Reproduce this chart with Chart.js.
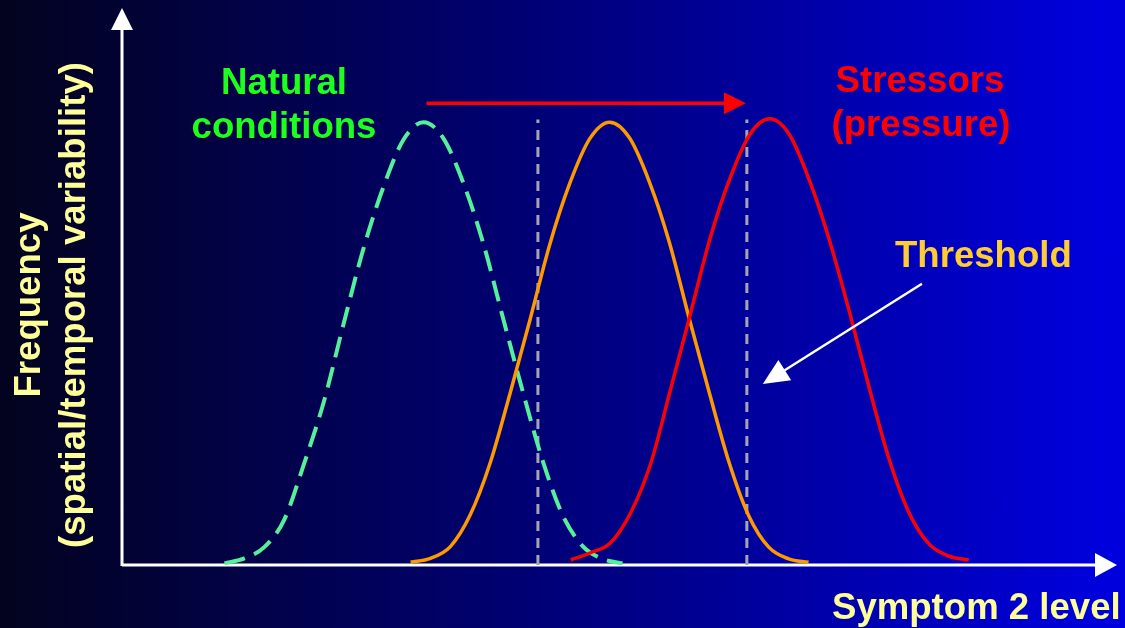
<!DOCTYPE html>
<html><head><meta charset="utf-8">
<script src="https://cdn.jsdelivr.net/npm/chart.js@4.4.0/dist/chart.umd.min.js"></script>
<style>
html,body{margin:0;padding:0;background:#000;}
#wrap{width:1125px;height:628px;background:linear-gradient(to right,#03031f 0%,#000070 45%,#0000e0 100%);}
canvas{display:block;}
</style></head><body>
<div id="wrap"><canvas id="c" width="1125" height="628"></canvas></div>
<script>
// ---- data (symptom level 0-100, frequency 0-100) ----
const naturalLevel = [10.3,12.3,14.3,16.3,18.3,20.3,22.3,24.3,26.3,28.3,30.3,32.3,34.3,36.3,38.3,40.3,42.3,44.3,46.3,48.3,50.3];
const naturalFreq  = [0.3,1.2,3.2,8.1,18.2,29.4,43.5,57.0,68.0,76.4,79.5,76.6,68.6,57.8,44.3,31.0,18.6,8.9,3.4,1.1,0.3];
const middleLevel  = [29.0,31.0,33.0,35.0,37.0,39.0,41.0,43.0,45.0,47.0,49.0,51.0,53.0,55.0,57.0,59.0,61.0,63.0,65.0,67.0,69.0];
const middleFreq   = [0.5,1.2,3.3,9.0,18.3,30.8,44.0,57.6,68.5,76.5,79.5,76.7,68.8,58.0,44.3,31.1,18.5,8.8,3.2,1.1,0.5];
const stressLevel  = [45.1,47.1,49.1,51.1,53.1,55.1,57.1,59.1,61.1,63.1,65.1,67.1,69.1,71.1,73.1,75.1,77.1,79.1,81.1,83.1,85.1];
const stressFreq   = [0.9,2.2,4.0,9.3,18.0,31.3,44.9,58.6,69.4,77.3,80.1,77.2,69.0,58.3,45.5,31.8,19.0,9.4,3.8,1.6,0.9];
const thresholdLevels = [41.8, 62.8];
const thresholdTop = 80;

// annotation arrows (in data units)
const shiftArrow = {x1:30.6, y1:82.9, x2:62.7, y2:82.9};
const pointerArrow = {x1:80.4, y1:50.5, x2:64.4, y2:32.5};

const pts = (xs, ys) => xs.map((x,i)=>({x:x, y:ys[i]}));

const thresholdSets = thresholdLevels.map(t => ({
  data:[{x:t,y:0},{x:t,y:thresholdTop}],
  borderColor:'#a4a4b4', borderWidth:3, borderDash:[10,7],
  pointRadius:0, order:10
}));

function arrowHead(ctx, x1,y1,x2,y2,len,half,color){
  const a = Math.atan2(y2-y1,x2-x1);
  ctx.fillStyle=color;
  ctx.beginPath();
  ctx.moveTo(x2,y2);
  ctx.lineTo(x2-len*Math.cos(a)+half*Math.sin(a), y2-len*Math.sin(a)-half*Math.cos(a));
  ctx.lineTo(x2-len*Math.cos(a)-half*Math.sin(a), y2-len*Math.sin(a)+half*Math.cos(a));
  ctx.closePath(); ctx.fill();
}
function arrow(ctx,x1,y1,x2,y2,w,len,half,color){
  const a = Math.atan2(y2-y1,x2-x1);
  ctx.strokeStyle=color; ctx.lineWidth=w; ctx.lineCap='butt';
  ctx.beginPath(); ctx.moveTo(x1,y1); ctx.lineTo(x2-(len-2)*Math.cos(a), y2-(len-2)*Math.sin(a)); ctx.stroke();
  arrowHead(ctx,x1,y1,x2,y2,len,half,color);
}

const axesPlugin = {
  id:'axesArrows',
  beforeDatasetsDraw(chart){
    const {ctx, chartArea:{left,right,top,bottom}} = chart;
    ctx.save();
    arrow(ctx,left,bottom+1,left,top,3,22,11,'#ffffff');
    arrow(ctx,left,bottom,right,bottom,3,22,12,'#ffffff');
    ctx.restore();
  },
  afterDatasetsDraw(chart){
    const {ctx, scales:{x,y}} = chart;
    ctx.save();
    arrow(ctx,x.getPixelForValue(shiftArrow.x1),y.getPixelForValue(shiftArrow.y1),
              x.getPixelForValue(shiftArrow.x2),y.getPixelForValue(shiftArrow.y2),3.5,22,11,'#ff0000');
    arrow(ctx,x.getPixelForValue(pointerArrow.x1),y.getPixelForValue(pointerArrow.y1),
              x.getPixelForValue(pointerArrow.x2),y.getPixelForValue(pointerArrow.y2),2.5,26,12,'#ffffff');

    const f = 'bold 36.6px "Liberation Sans", Arial, sans-serif';
    ctx.font = f; ctx.textBaseline='alphabetic';
    ctx.textAlign='center';
    ctx.fillStyle='#1eff1e';
    ctx.fillText('Natural',284,94);
    ctx.fillText('conditions',284,138);
    ctx.fillStyle='#ff0000';
    ctx.fillText('Stressors',920,92);
    ctx.fillText('(pressure)',921,136);
    ctx.textAlign='left';
    ctx.fillStyle='#ffcc33';
    ctx.fillText('Threshold',895,267);
    ctx.fillStyle='#ffff99';
    ctx.fillText('Symptom 2 level',832,619);
    ctx.save();
    ctx.translate(0,305); ctx.rotate(-Math.PI/2);
    ctx.textAlign='center';
    ctx.fillText('Frequency',0,40);
    ctx.fillText('(spatial/temporal variability)',0,85);
    ctx.restore();
    ctx.restore();
  }
};

new Chart(document.getElementById('c'),{
  type:'line',
  data:{datasets:[
    ...thresholdSets,
    {data:pts(naturalLevel,naturalFreq), borderColor:'#55f09a', borderWidth:4, borderDash:[21,10],
     pointRadius:0, cubicInterpolationMode:'monotone', order:3},
    {data:pts(middleLevel,middleFreq), borderColor:'#ff9900', borderWidth:3.5,
     pointRadius:0, cubicInterpolationMode:'monotone', order:2},
    {data:pts(stressLevel,stressFreq), borderColor:'#ff0000', borderWidth:3.5,
     pointRadius:0, cubicInterpolationMode:'monotone', order:1}
  ]},
  options:{
    responsive:false, animation:false, devicePixelRatio:1,
    layout:{padding:{left:122,right:8,top:8,bottom:63}},
    plugins:{legend:{display:false},tooltip:{enabled:false}},
    scales:{
      x:{type:'linear',min:0,max:100,display:false},
      y:{type:'linear',min:0,max:100,display:false}
    }
  },
  plugins:[axesPlugin]
});
</script>
</body></html>
